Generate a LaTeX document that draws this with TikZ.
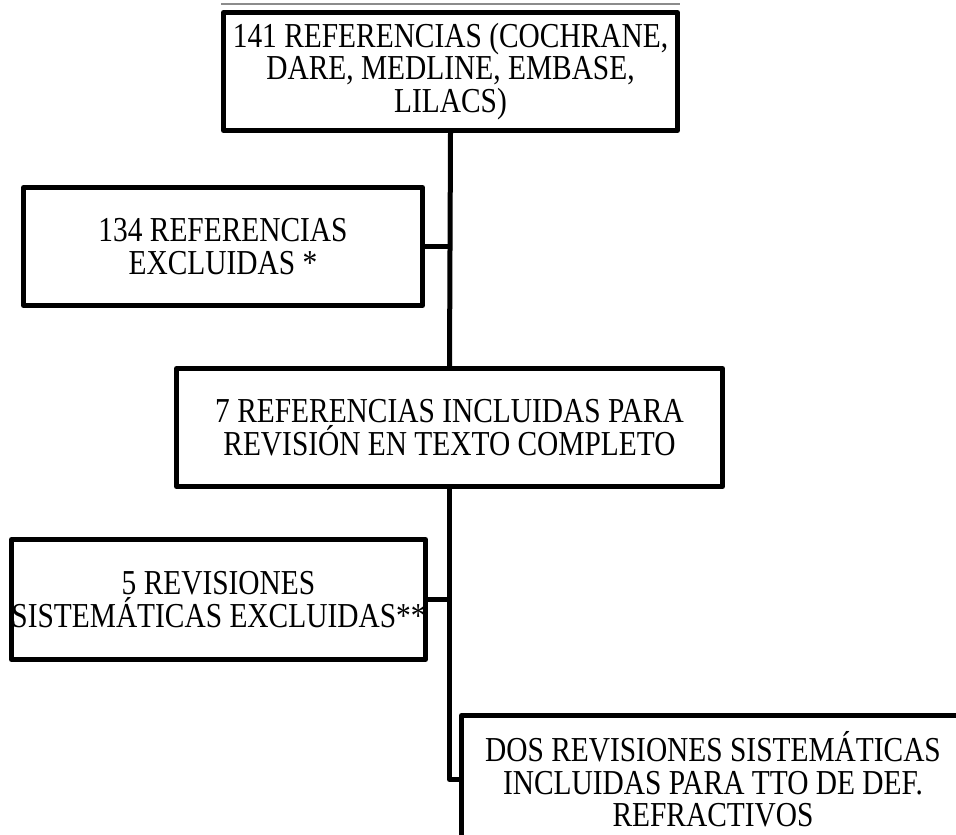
\documentclass[tikz,border=0pt]{standalone}
\usepackage{fontspec}
\setmainfont{Liberation Serif}[FakeStretch=0.84]
\usepackage{tikz}
\tikzset{
  box/.style={draw, line width=5pt, line join=round, align=center, inner sep=0pt,
    font=\fontsize{35}{32.5}\selectfont},
  link/.style={line width=5pt, line join=round}
}

\begin{document}
\begin{tikzpicture}[x=1pt, y=1pt]
\useasboundingbox (0,0) rectangle (956,-835);
\clip (0,0) rectangle (956,-835);
% Boxes of the flow
\node[box, minimum width=454pt, minimum height=118pt] (refs) at (450.5,-71.5) {141 REFERENCIAS (COCHRANE,\\ DARE, MEDLINE, EMBASE,\\ LILACS)};
\node[box, minimum width=399pt, minimum height=118pt] (excl) at (223,-246.5) {134 REFERENCIAS\\ EXCLUIDAS *};
\node[box, minimum width=546pt, minimum height=118pt] (incl) at (449.5,-427.5) {7 REFERENCIAS INCLUIDAS PARA\\ REVISIÓN EN TEXTO COMPLETO};
\node[box, minimum width=404pt, minimum height=120pt] (revexcl) at (218.5,-599.5) {5 REVISIONES\\ SISTEMÁTICAS EXCLUIDAS**};
\node[box, minimum width=503pt, minimum height=128pt] (revincl) at (713,-779.5) {DOS REVISIONES SISTEMÁTICAS\\ INCLUIDAS PARA TTO DE DEF.\\ REFRACTIVOS};

% thin line over the first box
\draw[black!45, line width=1.2pt] ([yshift=6pt]refs.north west) -- ([yshift=6pt]refs.north east);

% Connections
\draw[link] (refs.south) -- (incl.north);
\draw[link] (excl.east) -- (excl.east -| refs.south);
\draw[link] (incl.south) |- (revincl.west);
\draw[link] (revexcl.east) -- (revexcl.east -| incl.south);
\end{tikzpicture}
\end{document}
